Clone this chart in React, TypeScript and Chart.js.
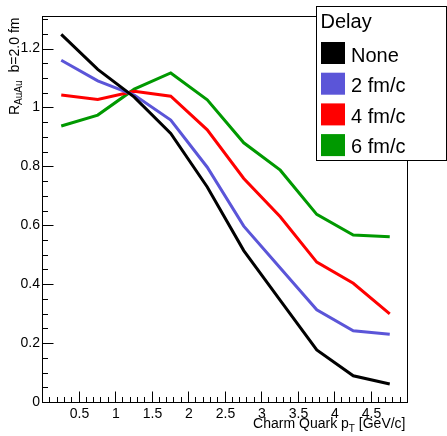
import { useEffect, useRef } from "react";
import { Chart, registerables } from "chart.js";

Chart.register(...registerables);

// ---- data ----
const pT = [0.25, 0.75, 1.25, 1.75, 2.25, 2.75, 3.25, 3.75, 4.25, 4.75];
const delayNone = [1.248, 1.129, 1.035, 0.912, 0.73, 0.514, 0.345, 0.177, 0.089, 0.061];
const delay2 = [1.16, 1.09, 1.042, 0.957, 0.797, 0.597, 0.455, 0.313, 0.242, 0.23];
const delay4 = [1.042, 1.027, 1.055, 1.038, 0.924, 0.759, 0.629, 0.475, 0.403, 0.299];
const delay6 = [0.937, 0.974, 1.062, 1.117, 1.026, 0.88, 0.787, 0.637, 0.567, 0.561];
const seriesLabels = ["None", "2 fm/c", "4 fm/c", "6 fm/c"];
const seriesColors = ["#000000", "#5b55d8", "#ff0000", "#009900"];
const legendTitle = "Delay";
const xMin = 0;
const xMax = 5;
const yMin = 0;
const yMax = 1.307;

const FONT = '"Liberation Sans", Arial, Helvetica, sans-serif';

const rootStyle = {
  id: "rootStyle",
  afterDraw(chart: any) {
    const { ctx, chartArea, scales } = chart;
    const { left, right, top, bottom } = chartArea;
    const xs = scales.x;
    const ys = scales.y;
    ctx.save();
    ctx.strokeStyle = "#000";
    ctx.lineWidth = 1;
    // frame
    const L = Math.round(left) - 0.5;
    const R = Math.round(right) - 0.5;
    const T = Math.round(top) - 0.5;
    const B = Math.round(bottom) + 0.5;
    ctx.strokeRect(L, T, R - L, B - T);
    // ticks
    ctx.beginPath();
    for (let i = 0; i <= 50; i++) {
      const v = xMin + i * 0.1;
      const px = Math.round(xs.getPixelForValue(v)) - 0.5;
      const len = i % 5 === 0 ? 11 : 5.5;
      ctx.moveTo(px, B);
      ctx.lineTo(px, B - len);
    }
    for (let i = 0; i * 0.05 <= yMax + 1e-9; i++) {
      const v = i * 0.05;
      const py = Math.round(ys.getPixelForValue(v)) + 0.5;
      const len = i % 4 === 0 ? 11 : 5.5;
      ctx.moveTo(L, py);
      ctx.lineTo(L + len, py);
    }
    ctx.stroke();

    // y title (rotated, with subscript)
    ctx.fillStyle = "#000";
    ctx.save();
    ctx.translate(18.5, 115);
    ctx.rotate(-Math.PI / 2);
    ctx.textBaseline = "alphabetic";
    ctx.textAlign = "left";
    ctx.font = `14px ${FONT}`;
    ctx.fillText("R", 0, 0);
    let off = ctx.measureText("R").width;
    ctx.font = `10px ${FONT}`;
    ctx.fillText("AuAu", off, 3.5);
    off += ctx.measureText("AuAu").width + 8;
    ctx.font = `14px ${FONT}`;
    ctx.fillText("b=2.0 fm", off, 0);
    ctx.restore();

    // x title (right aligned, with subscript)
    ctx.save();
    ctx.textBaseline = "alphabetic";
    ctx.textAlign = "left";
    ctx.font = `14px ${FONT}`;
    const p1 = "Charm Quark p";
    const p3 = " [GeV/c]";
    const w1 = ctx.measureText(p1).width;
    const w3 = ctx.measureText(p3).width;
    ctx.font = `10px ${FONT}`;
    const w2 = ctx.measureText("T").width;
    const xEnd = 405.5;
    let x0 = xEnd - (w1 + w2 + w3);
    const base = 428;
    ctx.font = `14px ${FONT}`;
    ctx.fillText(p1, x0, base);
    ctx.font = `10px ${FONT}`;
    ctx.fillText("T", x0 + w1, base + 3.5);
    ctx.font = `14px ${FONT}`;
    ctx.fillText(p3, x0 + w1 + w2, base);
    ctx.restore();

    // legend box
    ctx.fillStyle = "#fff";
    ctx.fillRect(316.5, 6.5, 130, 154);
    ctx.strokeStyle = "#000";
    ctx.strokeRect(316.5, 6.5, 130, 154);
    ctx.fillStyle = "#000";
    ctx.font = `20px ${FONT}`;
    ctx.textBaseline = "alphabetic";
    ctx.textAlign = "left";
    ctx.fillText(legendTitle, 320.5, 27.5);
    chart.data.datasets.forEach((ds: any, i: number) => {
      ctx.fillStyle = ds.borderColor;
      ctx.fillRect(321, 42 + i * 30.7, 24, 22);
      ctx.fillStyle = "#000";
      ctx.fillText(ds.label, 351, 61.5 + i * 30.5);
    });
    ctx.restore();
  },
};

export default function App() {
  const ref = useRef<HTMLCanvasElement | null>(null);
  useEffect(() => {
    if (!ref.current) return;
    const series = [delayNone, delay2, delay4, delay6];
    const chart = new Chart(ref.current, {
      type: "line",
      data: {
        datasets: series.map((s, k) => ({
          label: seriesLabels[k],
          data: pT.map((x, i) => ({ x, y: s[i] })),
          borderColor: seriesColors[k],
          backgroundColor: seriesColors[k],
          borderWidth: 3,
          pointRadius: 0,
          tension: 0,
          fill: false,
        })),
      },
      options: {
        animation: false,
        responsive: false,
        devicePixelRatio: 1,
        layout: { padding: { top: 17, right: 39, left: 0, bottom: 0 } },
        plugins: { legend: { display: false }, tooltip: { enabled: false }, title: { display: false } },
        scales: {
          x: {
            type: "linear",
            min: xMin,
            max: xMax,
            grid: { display: false, drawTicks: false },
            border: { display: false },
            afterBuildTicks: (s: any) => {
              s.ticks = s.ticks.filter((t: any) => t.value > xMin + 1e-6 && t.value < xMax - 1e-6);
            },
            afterFit: (s: any) => {
              s.height = 34;
              s.paddingLeft = 0;
              s.paddingRight = 0;
            },
            ticks: {
              stepSize: 0.5,
              autoSkip: false,
              maxRotation: 0,
              padding: 4,
              color: "#000",
              font: { family: FONT, size: 14 },
              callback: (v: any) => String(Math.round(Number(v) * 10) / 10),
            },
          },
          y: {
            type: "linear",
            min: yMin,
            max: yMax,
            grid: { display: false, drawTicks: false },
            border: { display: false },
            afterBuildTicks: (s: any) => {
              s.ticks = s.ticks.filter((t: any) => {
                const r = t.value / 0.2;
                return Math.abs(r - Math.round(r)) < 1e-6;
              });
            },
            afterFit: (s: any) => {
              s.width = 43;
              s.paddingTop = 0;
              s.paddingBottom = 0;
            },
            ticks: {
              stepSize: 0.2,
              autoSkip: false,
              padding: 3,
              color: "#000",
              font: { family: FONT, size: 14 },
              callback: (v: any) => String(Math.round(Number(v) * 10) / 10),
            },
          },
        },
      },
      plugins: [rootStyle],
    } as any);
    return () => chart.destroy();
  }, []);
  return (
    <div style={{ position: "absolute", left: 0, top: 0, width: 447, height: 436, background: "#fff" }}>
      <canvas ref={ref} width={447} height={436} style={{ display: "block" }} />
    </div>
  );
}
